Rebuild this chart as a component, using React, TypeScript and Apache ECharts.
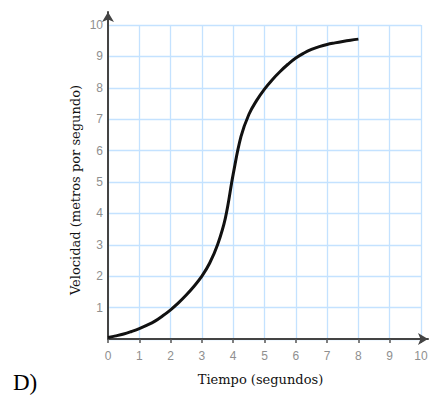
import React, { useEffect, useRef } from "react";
import * as echarts from "echarts";

const timeValues = [0, 0.25, 0.5, 0.75, 1, 1.25, 1.5, 1.75, 2, 2.25, 2.5, 2.75, 3, 3.25, 3.5, 3.75, 4, 4.25, 4.5, 4.75, 5, 5.25, 5.5, 5.75, 6, 6.25, 6.5, 6.75, 7, 7.25, 7.5, 7.75, 8];
const velocityValues = [0.05, 0.1, 0.16, 0.24, 0.33, 0.44, 0.57, 0.74, 0.93, 1.15, 1.4, 1.68, 2.0, 2.42, 3.0, 3.85, 5.25, 6.45, 7.15, 7.6, 7.96, 8.26, 8.52, 8.75, 8.95, 9.1, 9.22, 9.31, 9.38, 9.43, 9.475, 9.515, 9.55];
const xTickLabels = ["0", "1", "2", "3", "4", "5", "6", "7", "8", "9", "10"];
const yTickLabels = ["", "1", "2", "3", "4", "5", "6", "7", "8", "9", "10"];

const xTitle = "Tiempo (segundos)";
const yTitle = "Velocidad (metros por segundo)";
const panelLabel = "D)";

export default function App() {
  const ref = useRef<HTMLDivElement>(null);
  useEffect(() => {
    const chart = echarts.init(ref.current!, null, { renderer: "svg" });
    const gridLine = { show: true, lineStyle: { color: "#c4e2ff", width: 1.3 } };
    const tickLabel = { color: "#8f8f8f", fontFamily: "Liberation Sans", fontSize: 12 };
    const titleStyle = { fontFamily: "DejaVu Serif", fontSize: 13, color: "#111" };
    chart.setOption({
      animation: false,
      backgroundColor: "#ffffff",
      title: {
        text: panelLabel,
        left: 13,
        top: 371,
        padding: 0,
        textStyle: { fontFamily: "Liberation Serif", fontSize: 23, fontWeight: "normal", color: "#000" },
      },
      graphic: [
        {
          type: "text",
          x: 75,
          y: 190,
          rotation: Math.PI / 2,
          style: {
            text: yTitle,
            fontFamily: "DejaVu Serif",
            fontSize: 13,
            fill: "#111",
            align: "center",
            verticalAlign: "middle",
          },
        },
      ],
      grid: [
        { left: 108, right: 12, top: 25, bottom: 63 },
        { left: 108, right: 5, top: 12, bottom: 63 },
      ],
      xAxis: [
        {
          type: "value",
          gridIndex: 0,
          min: 0,
          max: 10,
          interval: 1,
          axisLine: { show: false },
          axisTick: { show: true, length: 4, lineStyle: { color: "#555", width: 1.5 } },
          axisLabel: { ...tickLabel, margin: 11, formatter: (v: number) => xTickLabels[Math.round(v)] ?? "" },
          splitLine: gridLine,
          name: xTitle,
          nameLocation: "middle",
          nameGap: 34,
          nameTextStyle: { ...titleStyle, padding: [0, 8, 0, 0] },
        },
        {
          type: "value",
          gridIndex: 1,
          min: 0,
          max: 1,
          axisLine: {
            show: true,
            onZero: false,
            symbol: ["none", "arrow"],
            symbolSize: [9, 10],
            lineStyle: { color: "#444", width: 2 },
          },
          axisTick: { show: false },
          axisLabel: { show: false },
          splitLine: { show: false },
        },
      ],
      yAxis: [
        {
          type: "value",
          gridIndex: 0,
          min: 0,
          max: 10,
          interval: 1,
          axisLine: { show: false },
          axisTick: { show: false },
          axisLabel: { ...tickLabel, margin: 5, formatter: (v: number) => yTickLabels[Math.round(v)] ?? "" },
          splitLine: gridLine,
        },
        {
          type: "value",
          gridIndex: 1,
          min: 0,
          max: 1,
          axisLine: {
            show: true,
            onZero: false,
            symbol: ["none", "arrow"],
            symbolSize: [9, 10],
            lineStyle: { color: "#444", width: 2 },
          },
          axisTick: { show: false },
          axisLabel: { show: false },
          splitLine: { show: false },
        },
      ],
      series: [
        {
          type: "line",
          xAxisIndex: 0,
          yAxisIndex: 0,
          data: timeValues.map((t, i) => [t, velocityValues[i]]),
          smooth: 0.4,
          showSymbol: false,
          lineStyle: { color: "#111", width: 3 },
        },
      ],
    });
    return () => chart.dispose();
  }, []);
  return <div ref={ref} style={{ position: "absolute", left: 0, top: 0, width: 433, height: 402 }} />;
}
